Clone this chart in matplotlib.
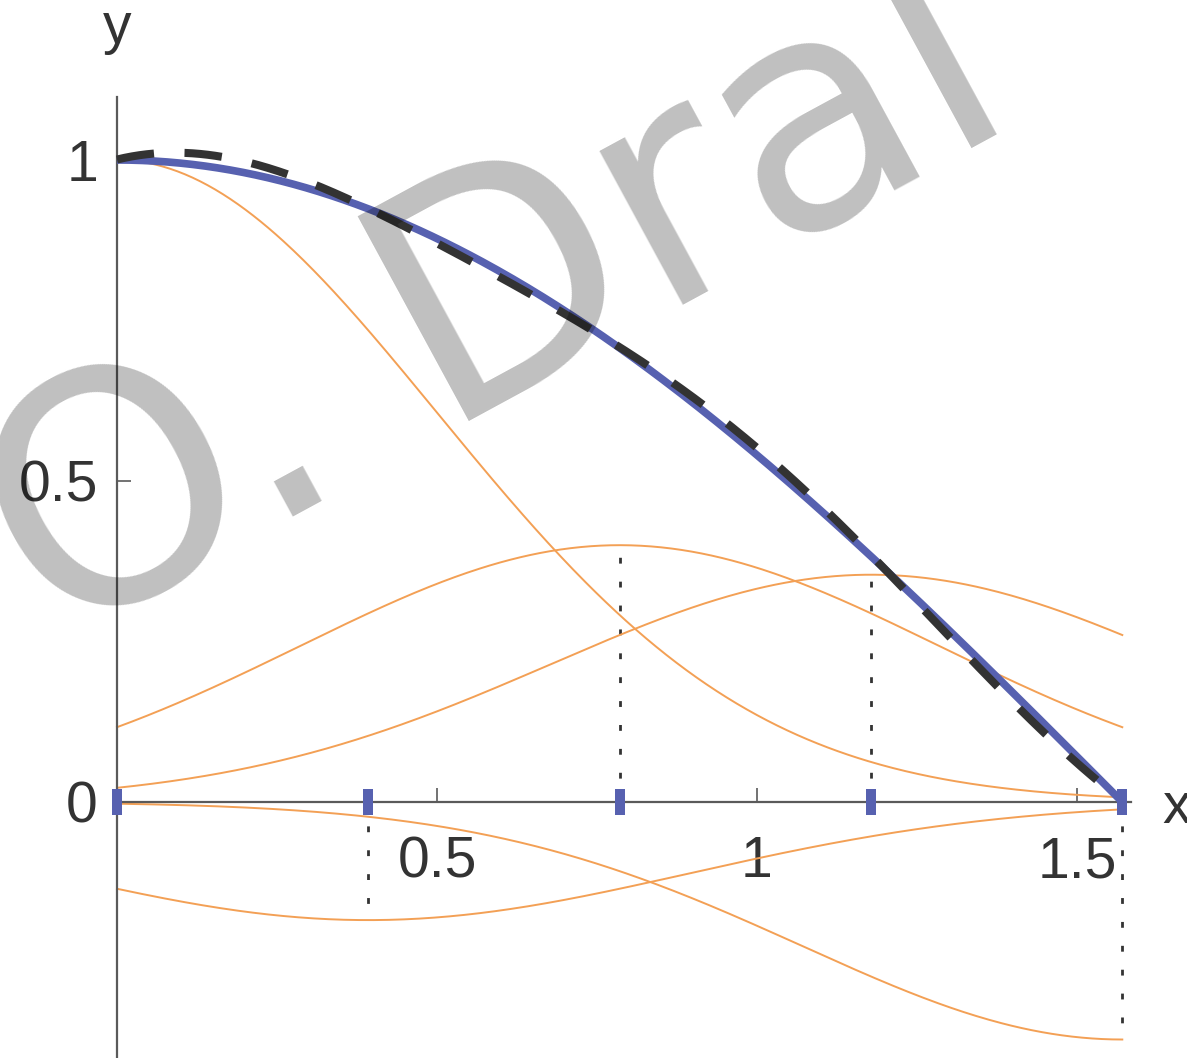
"""
Gaussian RBF interpolation of cos(x) on [0, pi/2] with five nodes.

Draws the target function, the interpolant, and each weighted basis
function, with a rotated watermark on top.
"""
import numpy as np
import matplotlib
matplotlib.use("Agg")
import matplotlib.pyplot as plt

plt.rcParams['font.family'] = ['Liberation Sans', 'DejaVu Sans']
plt.rcParams['lines.scale_dashes'] = False

# interpolation nodes and fitted weights of the Gaussian basis functions
nodes = [0.0, np.pi / 8, np.pi / 4, 3 * np.pi / 8, np.pi / 2]
weights = [1.0, -0.184, 0.40, 0.354, -0.37]
shape = 2.0  # phi(r) = exp(-shape * r**2)

x_ticks = [0.5, 1.0, 1.5]
x_ticklabels = ['0.5', '1', '1.5']
y_ticks = [0.0, 0.5, 1.0]
y_ticklabels = ['0', '0.5', '1']

BLUE = '#5761b0'
ORANGE = '#f3a055'
AXIS = '#5a5a5a'
TEXT = '#333333'


def basis(x, center, weight):
    return weight * np.exp(-shape * (x - center) ** 2)


def main():
    fig = plt.figure(figsize=(11.87, 10.58), dpi=100)
    ax = fig.add_axes([0, 0, 1, 1])
    ax.set_xlim(-0.1828, 1.6719)
    ax.set_ylim(-0.3988, 1.2492)

    xs = np.linspace(0, np.pi / 2, 400)

    # weighted basis functions and markers for their extrema
    total = np.zeros_like(xs)
    for c, w in zip(nodes, weights):
        part = basis(xs, c, w)
        total += part
        ax.plot(xs, part, color=ORANGE, lw=1.4, zorder=2)
        if c > 0:
            ax.plot([c, c], [0, w], color=TEXT, lw=2.0,
                     dashes=(4.2, 13.0), zorder=2)

    # target function and its interpolant
    ax.plot(xs, np.cos(xs), color=BLUE, lw=5.5, zorder=3,
            solid_capstyle='butt')
    ax.plot(xs, total, color='#333333', lw=5.8, dashes=(27, 22),
            zorder=4)

    # node markers on the x axis
    ax.plot(nodes, np.zeros(len(nodes)), linestyle='none', marker='|',
            ms=18.7, mew=7.2, color=BLUE, zorder=6, clip_on=False)

    # axes through the origin
    for side in ('top', 'right'):
        ax.spines[side].set_visible(False)
    ax.spines['left'].set_position(('data', 0))
    ax.spines['bottom'].set_position(('data', 0))
    ax.spines['left'].set_bounds(-0.3988, 1.098)
    ax.spines['bottom'].set_bounds(0, 1.585)
    for side in ('left', 'bottom'):
        ax.spines[side].set_color(AXIS)
        ax.spines[side].set_linewidth(1.6)
        ax.spines[side].set_zorder(2.5)

    ax.set_xticks(x_ticks, x_ticklabels)
    ax.set_yticks(y_ticks, y_ticklabels)
    ax.tick_params(axis='x', direction='in', length=10, width=1.2,
                   color=AXIS, pad=24, labelsize=41, labelcolor=TEXT)
    ax.tick_params(axis='y', direction='in', length=10, width=1.2,
                   color=AXIS, pad=13.7, labelsize=41, labelcolor=TEXT)
    ax.patch.set_visible(False)

    ax.text(0.0, 1.182, 'y', ha='center', va='baseline', fontsize=41,
            color=TEXT)
    ax.text(1.634, -0.033, 'x', ha='left', va='baseline', fontsize=41,
            color=TEXT)

    # watermark
    fig.text(539 / 1187, 1 - 383 / 1058, 'O. Dral', fontsize=230,
             family='DejaVu Sans', color='black', alpha=0.25,
             rotation=28.5, rotation_mode='anchor',
             ha='center', va='baseline', zorder=10)

    fig.savefig('out.png', dpi=100)


if __name__ == '__main__':
    main()
